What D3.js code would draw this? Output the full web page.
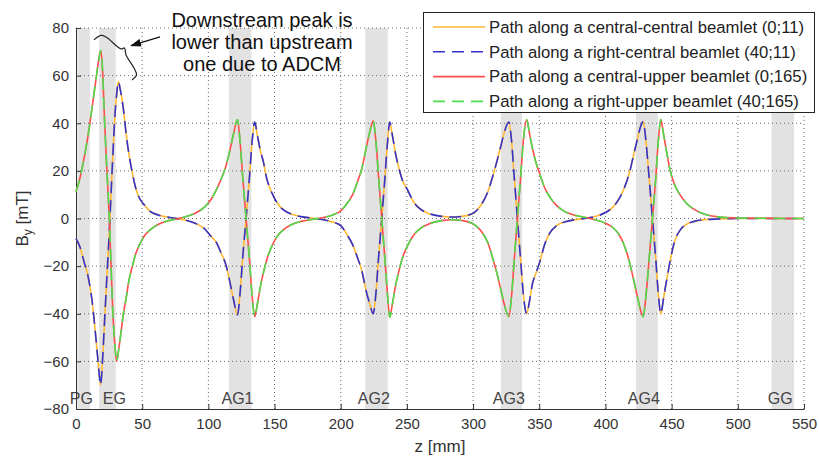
<!DOCTYPE html>
<html>
<head>
  <meta charset="utf-8">
  <script src="https://d3js.org/d3.v7.min.js"></script>
  <style>
    body {
      margin:0;
      background:#fff;
      font-family: "Liberation Sans", Arial, sans-serif;
    }
    .grid line {
      stroke: #666;
      stroke-dasharray: 1,3;
    }
    .axis path, .axis line {
      stroke: #333;
    }
    .axis text {
      fill: #333;
      font-size: 15px;
      font-family: "Liberation Sans", Arial, sans-serif;
    }
  </style>
</head>
<body>
<script>

// z positions along the beamline [mm]
var zPos = [
  0, 3, 6, 9, 12, 15, 17, 18.6, 20, 21.5,
  23, 25.2, 27.7, 29.5, 30.7, 32, 33.5, 35.8, 38, 40,
  42.6, 45, 48, 52, 56, 62, 68, 75, 82, 90,
  97.5, 102, 106, 110, 113, 116, 119, 122, 124, 126,
  128.5, 131, 133, 135, 137, 139.5, 141.5, 144, 147.8, 152,
  157, 163, 170, 178, 186, 194, 200, 205, 209, 213,
  216, 219, 222, 224.5, 226.5, 228.5, 231, 233.5, 235.5, 237,
  239, 241.5, 244, 247, 250, 255, 260, 267, 275, 285,
  295, 302, 307, 311, 315, 318, 321, 324, 327, 329,
  331, 333.5, 336, 338, 340.5, 342.5, 345, 347.5, 350.5, 354,
  358, 363, 369, 376, 384, 392, 400, 406, 410, 414,
  418, 421, 424, 426.5, 428.5, 430.5, 433, 435.5, 438, 440,
  441.8, 444, 446.5, 448.8, 452, 456.3, 461, 467, 475, 485,
  500, 520, 540, 550
];

// By [mT] seen by the upper beamlets (red / green)
var byUpper = [
  11.3, 17, 25, 34.5, 46, 58, 66, 70.5, 63, 42,
  24, 0, -38, -54, -60, -56, -50, -40, -33, -26,
  -20, -15, -11, -7, -4.8, -2.5, -1.2, -0.3, 0.6, 2.2,
  5, 8, 12, 17, 21.5, 28, 35.5, 41.6, 32, 17,
  0, -17, -32, -41.2, -36, -28, -23, -17.5, -11.8, -7.5,
  -4.6, -2.5, -1.2, -0.4, 0.3, 1.5, 3.2, 6.5, 10, 16,
  21, 29, 36.5, 41, 33, 18, 0, -18, -33, -41.5,
  -36, -28, -22, -16, -12, -7, -4.2, -2.2, -1, -0.5,
  -1.2, -3, -6, -10, -17, -23, -30, -37, -41.2, -33,
  -18, 0, 18, 33, 41.5, 36, 29, 23.5, 18.5, 13,
  9, 5.5, 3, 1.5, 0.5, -0.5, -2, -4, -6.5, -11,
  -18, -25, -32.5, -38.5, -41.2, -33, -17, 0, 17, 33,
  41.6, 35, 27, 20.4, 14.5, 10, 6.5, 3.8, 1.8, 0.7,
  0.2, 0.1, 0, 0
];

// By [mT] seen by the central beamlets (orange / blue)
var byCentral = [
  -8.3, -12, -18, -24, -34, -50, -62, -70, -60, -44,
  -28, -5, 25, 44, 52, 57.5, 54, 46, 35, 27,
  19, 13, 8.5, 5.5, 3, 1.5, 0.7, 0.1, -0.6, -2,
  -4.5, -7.5, -10, -15, -19, -26, -34, -40.5, -31, -16,
  0, 17, 32, 40.5, 35, 28, 24, 17, 11, 6.5,
  3.5, 1.8, 0.8, 0.2, -0.4, -1.5, -3, -7, -11, -17,
  -22, -30, -36, -40, -32, -17, 0, 18, 33, 40.5,
  35, 27, 21, 15.5, 12.5, 7, 4, 2, 1, 0.6,
  1.2, 3, 6.5, 11, 18, 24, 30.5, 37, 40.5, 33,
  18, 0, -18, -32, -40, -35, -27, -23, -18, -11,
  -6, -3, -1.5, -0.6, 0, 0.8, 2.5, 5, 8, 12.5,
  19, 26, 33, 38.5, 40.7, 33, 17, 0, -17, -32,
  -40, -33, -25, -18, -10, -5, -2.5, -1.2, -0.5, -0.2,
  0, 0, 0, 0
];

var seriesNames = [
  "Path along a central-central beamlet (0;11)",
  "Path along a right-central beamlet (40;11)",
  "Path along a central-upper beamlet (0;165)",
  "Path along a right-upper beamlet (40;165)"
];
var seriesValues = [byCentral, byCentral, byUpper, byUpper];

// gaps (shaded) along z [mm]
var gapNames = ["PG", "EG", "AG1", "AG2", "AG3", "AG4", "GG"];
var gapStart = [1, 17.5, 115.5, 218.5, 321, 423, 525.5];
var gapEnd   = [10.5, 30, 132.5, 235.5, 337, 439.5, 542.5];
var gapLabelZ = [4, 29, 122, 225, 327, 429, 532];

var xTicks = [0, 50, 100, 150, 200, 250, 300, 350, 400, 450, 500, 550];
var yTicks = [-80, -60, -40, -20, 0, 20, 40, 60, 80];

var noteLines = ["Downstream peak is", "lower than upstream", "one due to ADCM"];

var w = 819, h = 457;
var plotL = 76, plotR = 804, plotT = 28, plotB = 409;

var colors = ["#ffb733", "#3333cc", "#ff4d4d", "#4ddd4d"];
var dashes = [null, "12,7", null, "12,7"];

var x = d3.scaleLinear().domain([0, 550]).range([plotL, plotR]);
var y = d3.scaleLinear().domain([-80, 80]).range([plotB, plotT]);

var svg = d3.select("body").append("svg")
  .attr("width", w)
  .attr("height", h);

// shaded gaps
svg.append("g").selectAll("rect")
  .data(gapNames)
  .enter().append("rect")
    .attr("x", function(d, i){ return x(gapStart[i]); })
    .attr("width", function(d, i){ return x(gapEnd[i]) - x(gapStart[i]); })
    .attr("y", y(80))
    .attr("height", y(-80) - y(80))
    .attr("fill", "#e2e2e2");

// dotted grid
var grid = svg.append("g").attr("class", "grid");
grid.selectAll(".gx")
  .data(xTicks.slice(1))
  .enter().append("line")
    .attr("x1", function(d){ return x(d); })
    .attr("x2", function(d){ return x(d); })
    .attr("y1", y(-80))
    .attr("y2", y(80));
grid.selectAll(".gy")
  .data(yTicks.slice(1))
  .enter().append("line")
    .attr("x1", x(0))
    .attr("x2", x(550))
    .attr("y1", function(d){ return y(d); })
    .attr("y2", function(d){ return y(d); });

// gap labels
svg.append("g").selectAll("text")
  .data(gapNames)
  .enter().append("text")
    .attr("x", function(d, i){ return x(gapLabelZ[i]); })
    .attr("y", y(-80) - 5)
    .attr("text-anchor", "middle")
    .attr("font-size", "16px")
    .attr("fill", "#444")
    .text(function(d){ return d; });

// axes, ticks inside like matlab
svg.append("g")
  .attr("class", "axis")
  .attr("transform", "translate(0," + plotB + ")")
  .call(d3.axisBottom(x).tickValues(xTicks).tickSizeInner(-5).tickSizeOuter(0).tickPadding(9));

svg.append("g")
  .attr("class", "axis")
  .attr("transform", "translate(" + plotL + ",0)")
  .call(d3.axisLeft(y).tickValues(yTicks).tickSizeInner(-5).tickSizeOuter(0).tickPadding(7));

// curves
var line = d3.line()
  .x(function(d){ return x(d[0]); })
  .y(function(d){ return y(d[1]); })
  .curve(d3.curveMonotoneX);

seriesValues.forEach(function(vals, i){
  var pts = zPos.map(function(z, j){ return [z, vals[j]]; });
  svg.append("path")
    .datum(pts)
    .attr("d", line)
    .attr("fill", "none")
    .attr("stroke", colors[i])
    .attr("stroke-width", 1.6)
    .attr("stroke-dasharray", dashes[i]);
});

// axis titles
svg.append("text")
  .attr("x", (plotL + plotR) / 2)
  .attr("y", 452)
  .attr("text-anchor", "middle")
  .attr("font-size", "17px")
  .attr("fill", "#333")
  .text("z [mm]");

var ylab = svg.append("text")
  .attr("transform", "translate(28," + ((plotT + plotB) / 2) + ") rotate(-90)")
  .attr("text-anchor", "middle")
  .attr("font-size", "17px")
  .attr("fill", "#333");
ylab.append("tspan").text("B");
ylab.append("tspan").attr("font-size", "12px").attr("dy", 4).text("y");
ylab.append("tspan").attr("dy", -4).text(" [mT]");

// legend
var legend = svg.append("g");
legend.append("rect")
  .attr("x", 423.5).attr("y", 12.5)
  .attr("width", 391).attr("height", 100)
  .attr("fill", "#fff")
  .attr("stroke", "#222");

var rows = legend.selectAll(".row")
  .data(seriesNames)
  .enter().append("g")
    .attr("transform", function(d, i){ return "translate(0," + (27 + i * 24.8) + ")"; });
rows.append("line")
  .attr("x1", 433).attr("x2", 485)
  .attr("stroke", function(d, i){ return colors[i]; })
  .attr("stroke-width", 1.6)
  .attr("stroke-dasharray", function(d, i){ return dashes[i]; });
rows.append("text")
  .attr("x", 489)
  .attr("dy", "0.35em")
  .attr("font-size", "16.7px")
  .attr("fill", "#222")
  .text(function(d){ return d; });

// annotation: brace + arrow + note
var defs = svg.append("defs");
defs.append("marker")
  .attr("id", "head")
  .attr("markerUnits", "userSpaceOnUse")
  .attr("markerWidth", 11).attr("markerHeight", 8)
  .attr("refX", 10).attr("refY", 4)
  .attr("orient", "auto")
  .append("path")
    .attr("d", "M0,0 L11,4 L0,8 z")
    .attr("fill", "#111");

var bracePts = [[13.6, 75], [18.9, 76.9], [22.7, 76.2], [34, 71.2], [36.6, 71.6],
                [37.8, 68.7], [43.8, 63.2], [45.7, 60.3], [42.3, 58.2]];
svg.append("path")
  .datum(bracePts)
  .attr("d", d3.line()
    .x(function(d){ return x(d[0]); })
    .y(function(d){ return y(d[1]); })
    .curve(d3.curveCatmullRom.alpha(0.5)))
  .attr("fill", "none")
  .attr("stroke", "#222")
  .attr("stroke-width", 1.2);

svg.append("line")
  .attr("x1", x(63.5)).attr("y1", y(76.3))
  .attr("x2", x(41.6)).attr("y2", y(72.6))
  .attr("stroke", "#111")
  .attr("stroke-width", 1.3)
  .attr("marker-end", "url(#head)");

svg.append("g").selectAll("text")
  .data(noteLines)
  .enter().append("text")
    .attr("x", 262)
    .attr("y", function(d, i){ return 27 + i * 22; })
    .attr("text-anchor", "middle")
    .attr("font-size", "20px")
    .attr("fill", "#111")
    .text(function(d){ return d; });

</script>
</body>
</html>
